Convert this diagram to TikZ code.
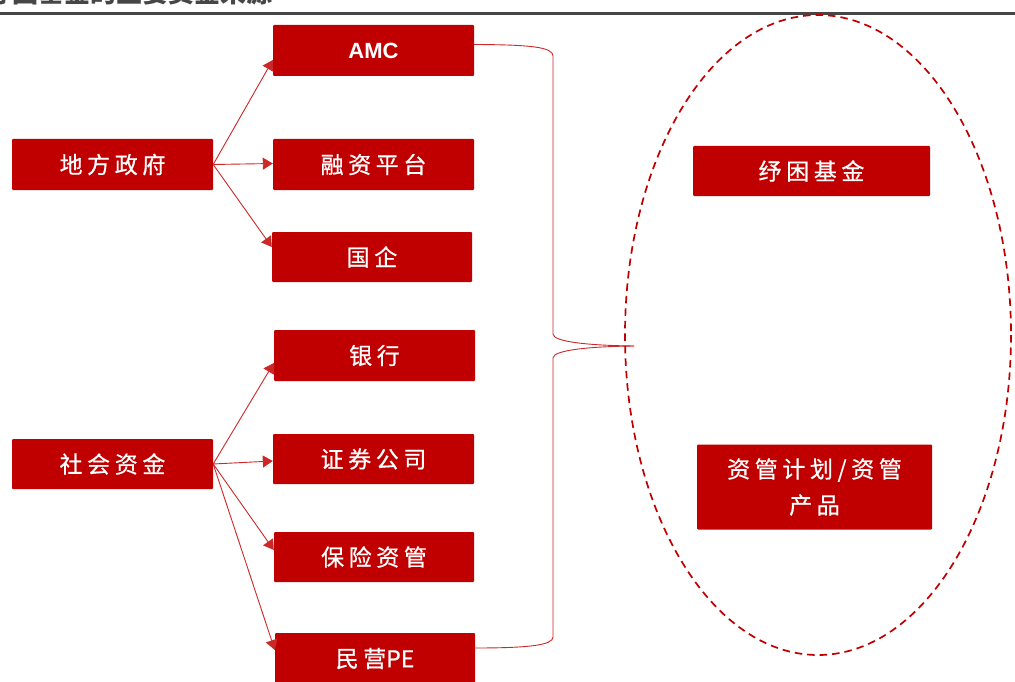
\documentclass[tikz,border=0pt]{standalone}
\usepackage{fontspec}
\setmainfont{Liberation Sans}
\newfontfamily\cjk{Noto Sans CJK SC}[LetterSpace=20,FakeBold=0.6]
\newfontfamily\cjkt{Noto Sans CJK SC}
\newfontfamily\cjkl{Noto Sans CJK SC}[FakeBold=0.6]
\usetikzlibrary{arrows.meta,calc}
\definecolor{boxred}{RGB}{192,0,0}
\definecolor{linered}{RGB}{205,40,40}
\definecolor{titlegray}{RGB}{70,70,70}
\begin{document}
\begin{tikzpicture}[x=1pt,y=-1pt,
  box/.style={fill=boxred,text=white,minimum width=201pt,minimum height=51pt,inner sep=0pt,rounded corners=1pt,font=\cjk\fontsize{23}{27}\selectfont},
  link/.style={draw=linered,line width=0.9pt,-{Triangle[length=10pt,width=12pt]}},
  bracel/.style={draw=linered,line width=0.9pt},
  pool/.style={draw=boxred,line width=1.7pt,dash pattern=on 7.5pt off 5pt}]
\useasboundingbox (0,0) rectangle (1015,682);
% title (cut off at top)
\begin{scope}
\clip (0,0) rectangle (1015,11.5);
\node[anchor=base west,inner sep=0pt,text=titlegray,font=\cjkt\bfseries\fontsize{26}{30}\selectfont] (title) at (-13.5,3) {纾困基金的主要资金来源};
\end{scope}
\draw[titlegray,line width=3pt] (0,13.7) -- (1015,13.7);
% boxes
\node[box] (dfzf) at (112.5,164.5) {地方政府};
\node[box,font=\bfseries\fontsize{22}{25}\selectfont] (amc) at (373.5,50.5) {AMC};
\node[box] (rzpt) at (373.5,164.5) {融资平台};
\node[box,minimum width=200pt,minimum height=50pt] (gq) at (372,257) {国企};
\node[box] (yh) at (374.5,355.5) {银行};
\node[box,minimum height=50pt] (shzj) at (112.5,464) {社会资金};
\node[box,minimum height=50pt] (zqgs) at (373.5,459) {证券公司};
\node[box,minimum width=200pt,minimum height=50pt] (bxzg) at (374,557) {保险资管};
\node[box,minimum width=200pt] (mype) at (375,658.5) {民营{\cjkl PE}};
\node[box,minimum width=237pt,minimum height=50pt] (kjjj) at (811.5,171) {纾困基金};
\node[box,minimum width=235pt,minimum height=85pt,align=center,font=\cjk\fontsize{23}{36}\selectfont] (zgjh) at (814.5,487) {资管计划/资管\\产品};
% arrows
\draw[link] (dfzf.east) -- ([yshift=-9.5pt]amc.west);
\draw[link] (dfzf.east) -- ([yshift=1pt]rzpt.west);
\draw[link] (dfzf.east) -- ([yshift=10pt]gq.west);
\draw[link] (shzj.east) -- ([yshift=-7.5pt]yh.west);
\draw[link] (shzj.east) -- ([yshift=-2pt]zqgs.west);
\draw[link] (shzj.east) -- ([yshift=7pt]bxzg.west);
\draw[link] (shzj.east) -- ([yshift=8.5pt]mype.west);
% brace
\coordinate (tip) at (634,346);
\draw[bracel] ([yshift=6pt]amc.east) .. controls (530,44.7) and (553,47) .. (553,56) -- (553,334) .. controls (553,342) and (590,345.5) .. (tip);
\draw[bracel] (tip) .. controls (590,346.5) and (553,350) .. (553,358) -- (553,637) .. controls (553,645) and (530,648) .. ([yshift=10.5pt]mype.east);
% dashed ellipse
\draw[pool] (818,335) ellipse [x radius=193, y radius=320];
\end{tikzpicture}
\end{document}
